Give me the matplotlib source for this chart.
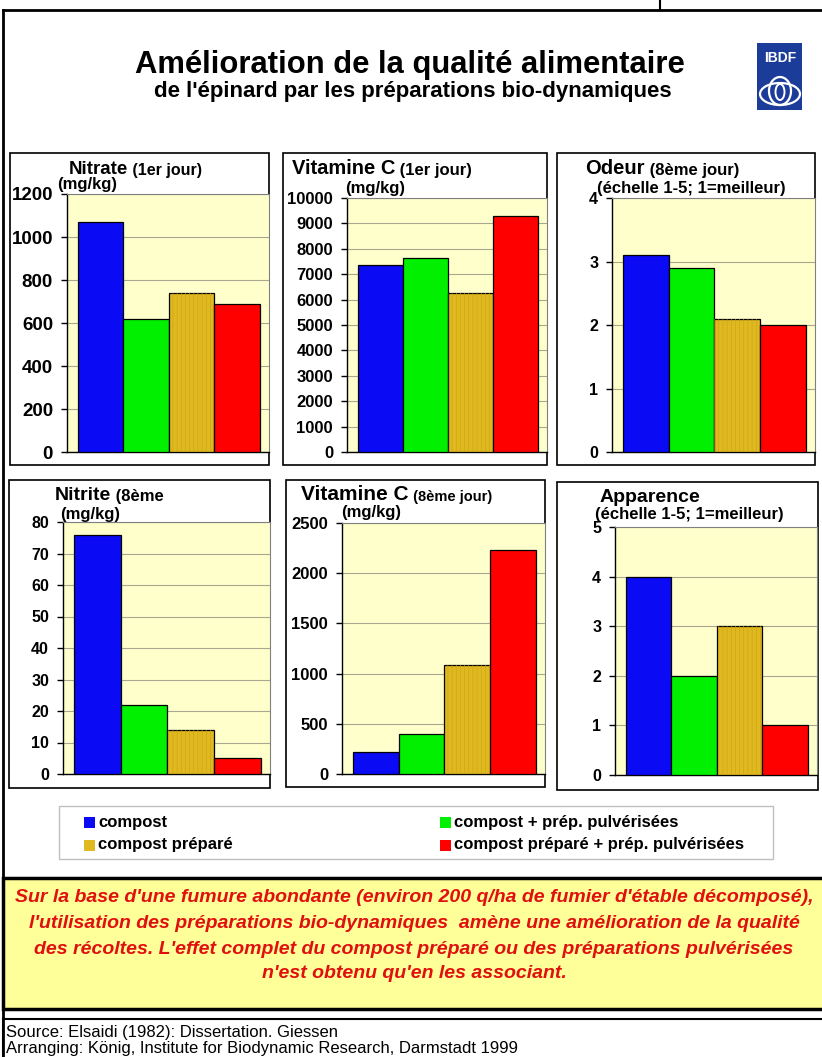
import matplotlib.pyplot as plt
from matplotlib.patches import Rectangle, Ellipse

plt.rcParams['font.family'] = ['Liberation Sans', 'DejaVu Sans']
plt.rcParams['hatch.linewidth'] = 0.4

W, H = 822, 1057

series = ["compost", "compost + prép. pulvérisées",
          "compost préparé", "compost préparé + prép. pulvérisées"]
colors = ["#0a0af5", "#00f000", "#e0b820", "#ff0000"]

nitrate_j1 = [1070, 620, 740, 690]
vitc_j1 = [7380, 7650, 6250, 9300]
odeur_j8 = [3.1, 2.9, 2.1, 2.0]
nitrite_j8 = [76, 22, 14, 5]
vitc_j8 = [220, 400, 1090, 2230]
apparence = [4, 2, 3, 1]

titles = ["Nitrate", "Vitamine C", "Odeur", "Nitrite", "Vitamine C", "Apparence"]
title_notes = [" (1er jour)", " (1er jour)", " (8ème jour)", " (8ème", " (8ème jour)", ""]
units = ["(mg/kg)", "(mg/kg)", "(échelle 1-5; 1=meilleur)",
         "(mg/kg)", "(mg/kg)", "(échelle 1-5; 1=meilleur)"]
y_max = [1200, 10000, 4, 80, 2500, 5]
y_step = [200, 1000, 1, 10, 500, 1]
panel_values = [nitrate_j1, vitc_j1, odeur_j8, nitrite_j8, vitc_j8, apparence]

# layout in pixels: outer box, plot area, title pos, unit pos, font sizes
layout = [
    dict(box=(10, 153, 269, 465), area=(67, 194, 269, 452), t=(69, 169), u=(57, 184),
         fs=13.5, tfs=13.5, nfs=11.5),
    dict(box=(283, 153, 547, 465), area=(347, 198, 547, 452), t=(292, 168), u=(345, 188),
         fs=12, tfs=14.5, nfs=12),
    dict(box=(557, 153, 815, 465), area=(612, 198, 815, 452), t=(585, 168), u=(597, 188),
         fs=11.5, tfs=14.5, nfs=12),
    dict(box=(9, 480, 270, 788), area=(63, 522, 270, 774), t=(55, 496), u=(60, 514),
         fs=11.5, tfs=14, nfs=12),
    dict(box=(286, 480, 545, 787), area=(342, 523, 545, 774), t=(301, 494), u=(341, 512),
         fs=12, tfs=15, nfs=10.5),
    dict(box=(557, 482, 818, 790), area=(615, 527, 817, 775), t=(600, 497), u=(595, 515),
         fs=11.5, tfs=14, nfs=12),
]

fig = plt.figure(figsize=(W / 100, H / 100), dpi=100)

# background layer in pixel coordinates for frames, boxes and text
bg = fig.add_axes([0, 0, 1, 1], zorder=0)
bg.set_xlim(0, W)
bg.set_ylim(H, 0)
bg.axis('off')

# page frame
bg.plot([3, W], [10, 10], color='black', lw=2)
bg.plot([660, 660], [0, 10], color='black', lw=1.5)
bg.plot([3, 3], [10, H], color='black', lw=2)

# header
bg.text(410, 65, "Amélioration de la qualité alimentaire", ha='center', va='center',
        fontsize=22.3, fontweight='bold')
bg.text(413, 92, "de l'épinard par les préparations bio-dynamiques", ha='center',
        va='center', fontsize=16, fontweight='bold')

# IBDF logo
bg.add_patch(Rectangle((757, 43), 45, 67, facecolor='#1b3c98', edgecolor='none'))
bg.text(780, 58, "IBDF", ha='center', va='center', color='white', fontsize=10,
        fontweight='bold')
bg.add_patch(Ellipse((780, 94), 40, 22, fill=False, edgecolor='white', lw=1.6))
bg.add_patch(Ellipse((780, 91), 22, 28, fill=False, edgecolor='white', lw=1.6))
bg.add_patch(Ellipse((780, 92), 9, 16, fill=False, edgecolor='white', lw=1.4))

for vals, ttl, note, unit, ymax, step, lay in zip(panel_values, titles, title_notes,
                                                   units, y_max, y_step, layout):
    bx0, by0, bx1, by1 = lay['box']
    bg.add_patch(Rectangle((bx0, by0), bx1 - bx0, by1 - by0, facecolor='white',
                           edgecolor='black', lw=1.2))
    x0, y0, x1, y1 = lay['area']
    ax = fig.add_axes([x0 / W, 1 - y1 / H, (x1 - x0) / W, (y1 - y0) / H], zorder=2)
    ax.set_facecolor('#ffffcc')
    pos = range(len(vals))
    ax.bar(pos, vals, width=1.0, color=colors, edgecolor='black', linewidth=0.9, zorder=3)
    # fine vertical texture on the gold bar
    ax.bar(2, vals[2], width=1.0, fill=False, hatch='||||', edgecolor='#caa214',
           linewidth=0, zorder=3.5)
    ax.set_xlim(-0.74, 3.7)
    ax.set_ylim(0, ymax)
    ax.set_yticks([i * step for i in range(int(round(ymax / step)) + 1)])
    ax.set_xticks([])
    ax.yaxis.grid(True, color='#a8a890', lw=0.8)
    ax.set_axisbelow(True)
    for side in ('left', 'bottom'):
        ax.spines[side].set_color('black')
        ax.spines[side].set_linewidth(1.0)
    for side in ('top', 'right'):
        ax.spines[side].set_color('#808080')
        ax.spines[side].set_linewidth(0.8)
    ax.tick_params(axis='y', length=4, width=1, pad=6, labelsize=lay['fs'])
    for lbl in ax.get_yticklabels():
        lbl.set_fontweight('bold')

    tx, ty = lay['t']
    t = bg.text(tx, ty, ttl, ha='left', va='center', fontsize=lay['tfs'], fontweight='bold')
    if note:
        bg.annotate(note, xy=(1, 0), xycoords=t, ha='left', va='bottom',
                    fontsize=lay['nfs'], fontweight='bold')
    ux, uy = lay['u']
    bg.text(ux, uy, unit, ha='left', va='center', fontsize=12, fontweight='bold')

# legend
bg.add_patch(Rectangle((59, 806), 714, 53, facecolor='white', edgecolor='#c0c0c0', lw=1))
legend_pos = [(84, 822), (440, 822), (84, 845), (440, 845)]
for name, col, (lx, ly) in zip(series, colors, legend_pos):
    bg.add_patch(Rectangle((lx, ly - 5.5), 11, 11, facecolor=col, edgecolor='none'))
    bg.text(lx + 14, ly, name, ha='left', va='center', fontsize=12, fontweight='bold')

# conclusion box
bg.add_patch(Rectangle((3, 878), W, 131, facecolor='#ffff99', edgecolor='black', lw=2.5))
conclusion = [
    "Sur la base d'une fumure abondante (environ 200 q/ha de fumier d'étable décomposé),",
    "l'utilisation des préparations bio-dynamiques  amène une amélioration de la qualité",
    "des récoltes. L'effet complet du compost préparé ou des préparations pulvérisées",
    "n'est obtenu qu'en les associant.",
]
for line, ly in zip(conclusion, [898, 923, 949, 973]):
    bg.text(414, ly, line, ha='center', va='center', fontsize=14, fontweight='bold',
            fontstyle='italic', color='#e01010')

# source box
bg.add_patch(Rectangle((3, 1019), W, 60, facecolor='white', edgecolor='black', lw=1.5))
bg.text(6, 1032, "Source: Elsaidi (1982): Dissertation. Giessen", ha='left',
        va='center', fontsize=12)
bg.text(6, 1049, "Arranging: König, Institute for Biodynamic Research, Darmstadt 1999",
        ha='left', va='center', fontsize=12)

fig.savefig("out.png", dpi=100)
